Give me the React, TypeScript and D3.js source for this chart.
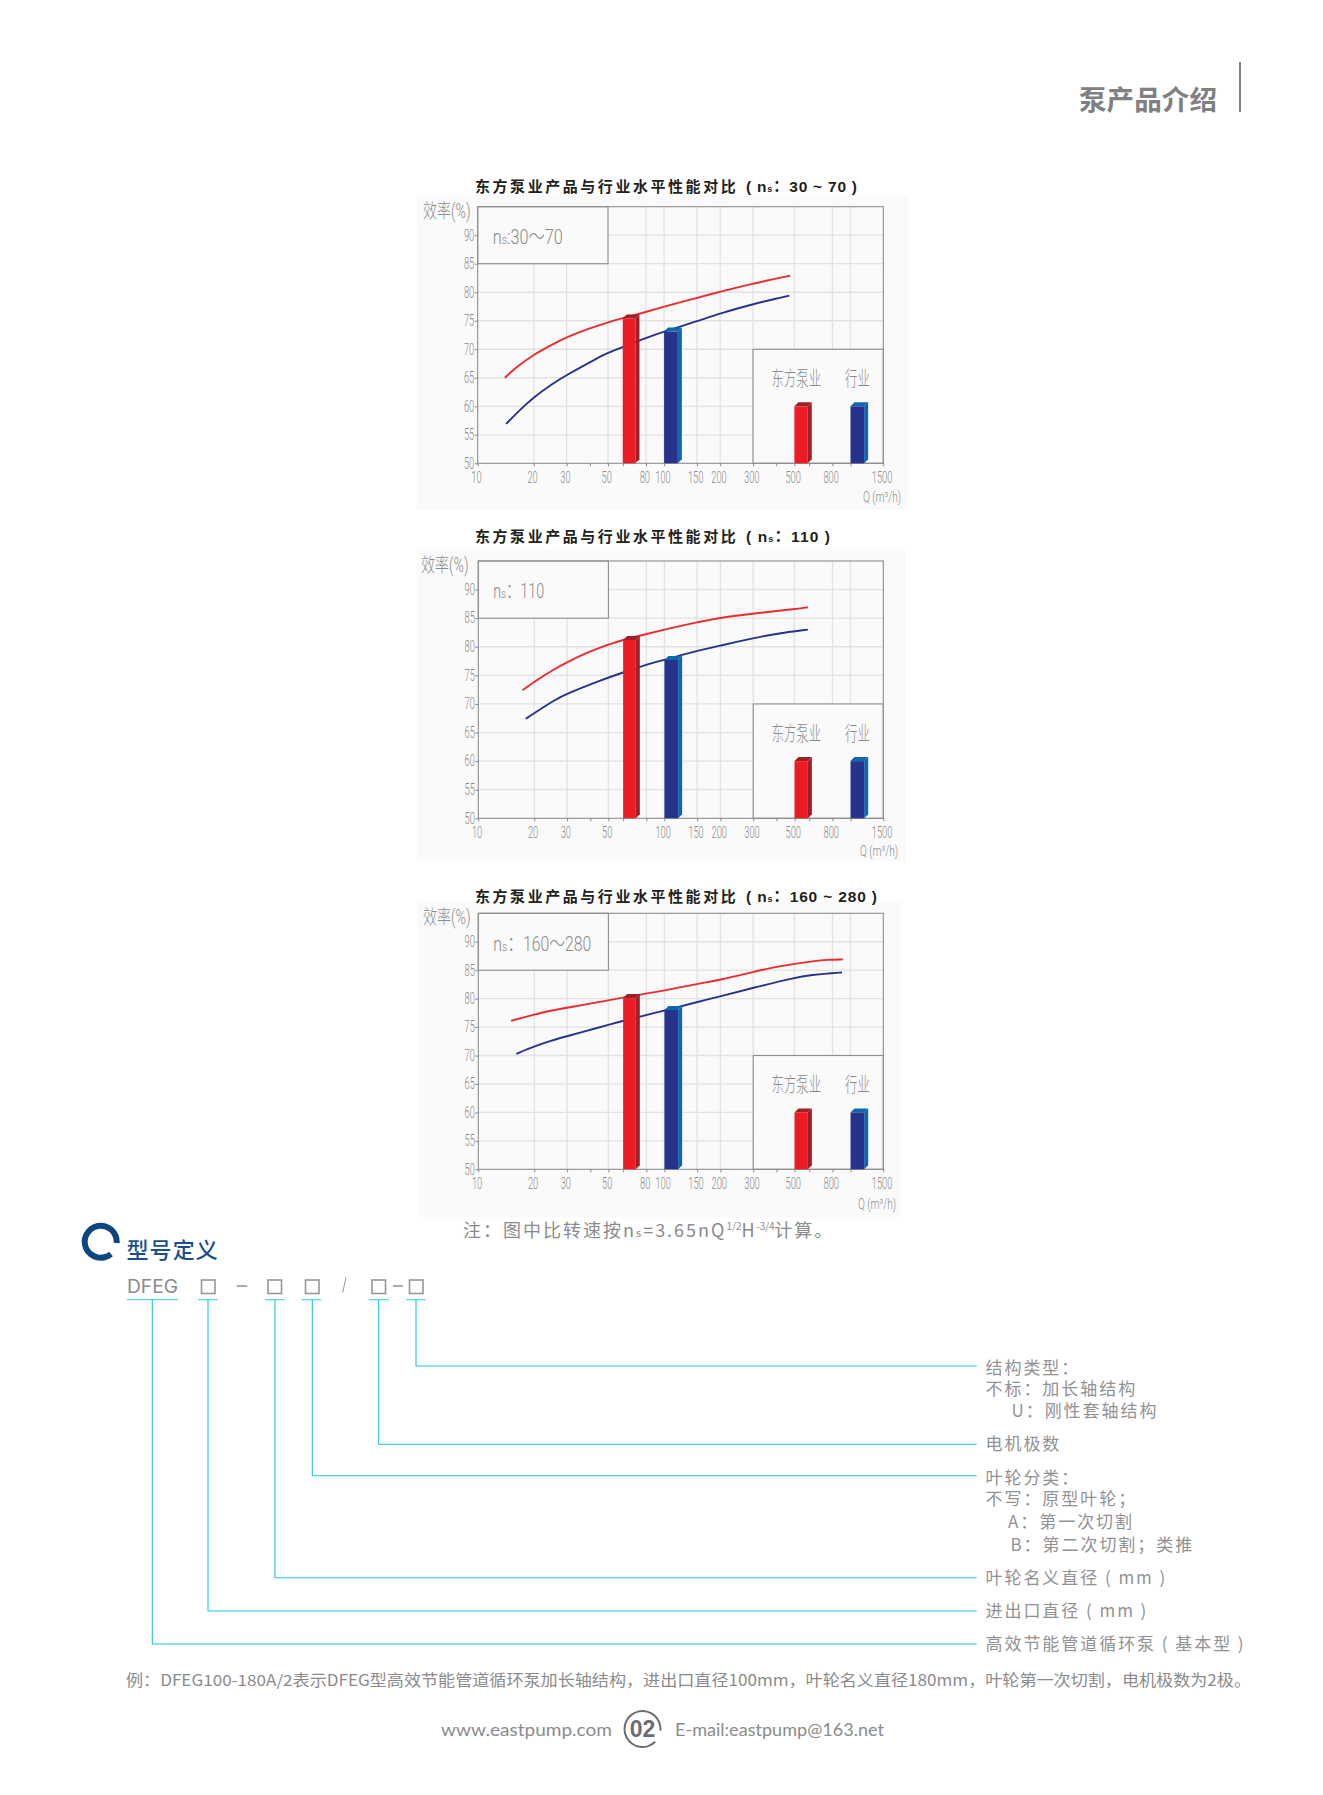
import React, { useEffect, useRef } from "react";
import * as d3 from "d3";

// curves are [Q, efficiency]
const ours30 = [[14, 65], [16, 66.8], [20, 69.1], [25, 70.8], [30, 72.1], [40, 73.7], [50, 74.7], [60, 75.5], [72, 76.1], [100, 77.5], [150, 79], [200, 80.1], [300, 81.5], [400, 82.4], [475, 82.9]];
const trade30 = [[14.2, 56.9], [17, 59.5], [20, 61.6], [25, 63.9], [30, 65.5], [42, 68.1], [50, 69.4], [60, 70.4], [80, 72], [100, 73.1], [150, 74.9], [200, 76.3], [300, 77.9], [400, 78.9], [470, 79.4]];
const ours110 = [[17.3, 72.4], [20, 73.9], [25.6, 76.1], [30, 77.3], [37.7, 78.9], [50, 80.4], [60, 81.2], [73, 81.9], [100, 83], [150, 84.3], [200, 85.1], [300, 85.8], [500, 86.6], [590, 86.9]];
const trade110 = [[18, 67.4], [20, 68.4], [26, 70.8], [30, 71.8], [45, 74.1], [60, 75.5], [80, 76.9], [100, 77.7], [150, 79.3], [200, 80.2], [300, 81.5], [400, 82.3], [590, 83]];
const ours160 = [[15, 76.1], [20, 77.2], [24.5, 77.9], [30, 78.4], [50, 79.7], [60, 80.2], [100, 81.4], [150, 82.6], [200, 83.3], [300, 84.7], [400, 85.6], [500, 86.1], [630, 86.6], [750, 86.85], [910, 86.9]];
const trade160 = [[16, 70.3], [20, 71.6], [24.5, 72.6], [30, 73.4], [36, 74.1], [50, 75.4], [60, 76.1], [100, 77.9], [150, 79.4], [200, 80.4], [300, 81.9], [500, 83.7], [630, 84.2], [750, 84.4], [900, 84.6]];

const xAxisTicks = [10, 20, 30, 40, 50, 60, 80, 100, 150, 200, 300, 400, 500, 600, 800, 1000, 1500];
const xLabels = [10, 20, 30, 50, 80, 100, 150, 200, 300, 500, 800, 1500];
const xGrid = [20, 30, 50, 80, 100, 150, 200, 300, 500, 800, 1000];
const yTicks = [50, 55, 60, 65, 70, 75, 80, 85, 90];
const yGrid = [55, 60, 65, 70, 75, 80, 85, 90];

const RED = "#ed1c24", RED_DARK = "#9e1f28", BLUE = "#27328c", BLUE_DARK = "#0a68ae";
const GREY = "#8b8b8d";
const CJK = "'Noto Sans CJK SC'";
const CHART_FONT = "Roboto, 'Noto Sans CJK SC'";

const panels = [
  {
    title: "东方泵业产品与行业水平性能对比", range: "：30 ~ 70 )", rangeW: 111, titleY: 192, ns: ["n", "s", ":30～70"], nsW: 70, nsY: 244,
    left: 477.7, right: 883.3, top: 206.7, bottom: 463.3, bg: [417, 195, 908, 510],
    ours: ours30, trade: trade30, oursBar: 75.4, tradeBar: 73.1, labels: xLabels,
    unit: [863, 502], effX: 423,
  },
  {
    title: "东方泵业产品与行业水平性能对比", range: "：110 )", rangeW: 84, titleY: 542, ns: ["n", "s", "：110"], nsW: 51, nsY: 598,
    left: 478.3, right: 883.3, top: 561, bottom: 818.3, bg: [417, 551, 906, 861],
    ours: ours110, trade: trade110, oursBar: 81.2, tradeBar: 77.7, labels: xLabels.filter(d => d !== 80),
    unit: [860, 856], effX: 421,
  },
  {
    title: "东方泵业产品与行业水平性能对比", range: "：160 ~ 280 )", rangeW: 131, titleY: 902, ns: ["n", "s", "：160～280"], nsW: 98, nsY: 951,
    left: 478.3, right: 883.3, top: 913.3, bottom: 1169.3, bg: [418, 902, 900, 1217],
    ours: ours160, trade: trade160, oursBar: 80.1, tradeBar: 78, labels: xLabels,
    unit: [858, 1209], effX: 423,
  },
];

function Bar3D({ x, y, q0, q1, v, front, dark }: any) {
  const x0 = x(q0), x1 = x(q1), top = y(v), base = y(50), d = 4;
  return (
    <g>
      <polygon points={`${x0},${top} ${x0 + d},${top - d} ${x1 + d},${top - d} ${x1},${top}`} fill={dark} />
      <polygon points={`${x1},${top} ${x1 + d},${top - d} ${x1 + d},${base - d} ${x1},${base}`} fill={dark} />
      <rect x={x0} y={top} width={x1 - x0} height={base - top} fill={front} />
    </g>
  );
}

function Narrow({ x, y, sx, size, children, fill = "#8a8a8a" }: any) {
  return (
    <text transform={`translate(${x},${y}) scale(${sx},1)`} fontSize={size} fontFamily={CHART_FONT} fontWeight={300} fill={fill}>
      {children}
    </text>
  );
}

function Panel({ p }: any) {
  const xRef = useRef<SVGGElement>(null);
  const yRef = useRef<SVGGElement>(null);
  const x = d3.scaleLog().domain([10, 1500]).range([p.left, p.right]);
  const y = d3.scaleLinear().domain([50, 95]).range([p.bottom, p.top]);
  const line = d3.line().x((d: any) => x(d[0])).y((d: any) => y(d[1])).curve(d3.curveBasis);

  useEffect(() => {
    const ax = d3.select(xRef.current as any);
    ax.call(d3.axisBottom(x).tickValues(xAxisTicks).tickSize(3).tickFormat((d: any) => (p.labels.includes(d) ? String(d) : "")) as any);
    const ay = d3.select(yRef.current as any);
    ay.call(d3.axisLeft(y).tickValues(yTicks).tickSize(3).tickFormat((d: any) => String(d)) as any);
    [ax, ay].forEach(a => {
      a.select(".domain").remove();
      a.selectAll("line").attr("stroke", "#8a8a8a");
      a.selectAll("text").attr("fill", "#8a8a8a").attr("font-size", 16).attr("font-family", CHART_FONT).attr("font-weight", 300);
    });
    ax.selectAll("text").attr("transform", "scale(.58,1)").attr("x", -3).attr("y", 8);
    ay.selectAll("text").attr("transform", "scale(.58,1)").attr("x", -6).attr("dy", ".3em");
  });

  const boxX = x(50), boxY = y(85), legX = x(300), legY = y(70);
  return (
    <g>
      <rect x={p.bg[0]} y={p.bg[1]} width={p.bg[2] - p.bg[0]} height={p.bg[3] - p.bg[1]} fill="#fafafa" />
      {xGrid.map(d => <line key={d} x1={x(d)} x2={x(d)} y1={p.top} y2={p.bottom} stroke="#e2e2e2" strokeWidth={1.3} />)}
      {yGrid.map(d => <line key={d} x1={p.left} x2={p.right} y1={y(d)} y2={y(d)} stroke="#e2e2e2" strokeWidth={1.3} />)}
      <path d={line(p.ours) as string} fill="none" stroke="#ee2a2e" strokeWidth={1.9} />
      <path d={line(p.trade) as string} fill="none" stroke={BLUE} strokeWidth={1.9} />
      <rect x={p.left} y={p.top} width={boxX - p.left} height={boxY - p.top} fill="#fafafa" stroke="#8e8e8e" strokeWidth={1.1} />
      <rect x={legX} y={legY} width={p.right - legX} height={p.bottom - legY} fill="#fafafa" stroke="#8e8e8e" strokeWidth={1.1} />
      <rect x={p.left} y={p.top} width={p.right - p.left} height={p.bottom - p.top} fill="none" stroke="#8e8e8e" strokeWidth={1.1} />
      <Bar3D x={x} y={y} q0={60} q1={70.2} v={p.oursBar} front={RED} dark={RED_DARK} />
      <Bar3D x={x} y={y} q0={100} q1={118.5} v={p.tradeBar} front={BLUE} dark={BLUE_DARK} />
      <Bar3D x={x} y={y} q0={500} q1={590} v={60} front={RED} dark={RED_DARK} />
      <Bar3D x={x} y={y} q0={1000} q1={1184} v={60} front={BLUE} dark={BLUE_DARK} />
      <g ref={xRef} transform={`translate(0,${p.bottom})`} />
      <g ref={yRef} transform={`translate(${p.left},0)`} />
      <text x={475} y={p.titleY} fontFamily={CJK} fontWeight={700} fontSize={15} letterSpacing={2.55} fill="#231f20">{p.title}</text>
      <text x={746} y={p.titleY} fontFamily={`'Liberation Sans', ${CJK}`} fontWeight={700} fontSize={15.5} fill="#231f20" textLength={p.rangeW}>
        ( n<tspan fontSize={9}>s</tspan>{p.range}
      </text>
      <text x={x(10) + 15} y={p.nsY} fontFamily={CHART_FONT} fontWeight={300} fontSize={20} fill="#8a8a8a" textLength={p.nsW} lengthAdjust="spacingAndGlyphs">
        {p.ns[0]}<tspan fontSize={13}>{p.ns[1]}</tspan>{p.ns[2]}
      </text>
      <Narrow x={p.effX} y={p.top + 11} sx={0.72} size={19.5}>效率(%)</Narrow>
      <Narrow x={p.unit[0]} y={p.unit[1]} sx={0.7} size={14.5}>Q (m³/h)</Narrow>
      <Narrow x={771.5} y={p.bottom - 77} sx={0.62} size={20}>东方泵业</Narrow>
      <Narrow x={845} y={p.bottom - 77} sx={0.62} size={20}>行业</Narrow>
    </g>
  );
}

// which box each leader line runs from, and the height it turns right at
const leaderX = [416, 378.7, 312.3, 275, 208, 152.3];
const leaderY = [1366, 1444.3, 1475.7, 1577.7, 1611, 1644];
const underlines = [[126.7, 178], [198, 218], [265, 284.7], [301.7, 321.3], [369, 389], [406, 425.7]];
const codeBoxes = [201.5, 268, 305.5, 372, 409.5];

const notes: [string, number, number][] = [
  ["结构类型：", 985.5, 1373.5],
  ["不标：加长轴结构", 985.5, 1394.5],
  ["U：刚性套轴结构", 1011.5, 1417],
  ["电机极数", 985.5, 1449.5],
  ["叶轮分类：", 985.5, 1483.5],
  ["不写：原型叶轮；", 985.5, 1504.5],
  ["A：第一次切割", 1008, 1527.5],
  ["B：第二次切割；类推", 1010.5, 1550.5],
  ["叶轮名义直径 ( mm )", 985.5, 1583.5],
  ["进出口直径 ( mm )", 985.5, 1616.5],
  ["高效节能管道循环泵 ( 基本型 )", 985.5, 1649.5],
];

export default function App() {
  const logo = d3.arc()({ innerRadius: 13, outerRadius: 19, startAngle: (140 * Math.PI) / 180, endAngle: (455 * Math.PI) / 180 }) as string;
  const pageRing = d3.arc()({ innerRadius: 17, outerRadius: 19, startAngle: (135 * Math.PI) / 180, endAngle: (455 * Math.PI) / 180 }) as string;
  return (
    <svg width={1323} height={1795} viewBox="0 0 1323 1795" style={{ position: "absolute", left: 0, top: 0, display: "block", background: "#fff" }}>
      <text x={1079} y={110} fontFamily={CJK} fontWeight={700} fontSize={27.6} fill="#808082">泵产品介绍</text>
      <line x1={1240} x2={1240} y1={62} y2={112} stroke="#808082" strokeWidth={2} />

      {panels.map((p, i) => <Panel key={i} p={p} />)}

      <text x={463} y={1237} fontFamily={CJK} fontSize={18} letterSpacing={2} fill={GREY}>
        注：图中比转速按n<tspan fontSize={11}>s</tspan>=3.65nQ<tspan fontSize={10} dy={-7} letterSpacing={0}>1/2</tspan><tspan dy={7}>H</tspan>
        <tspan fontSize={10} dy={-7} letterSpacing={-0.2}>-3/4</tspan><tspan dy={7}>计算。</tspan>
      </text>

      <path d={logo} transform="translate(100.7,1241.7)" fill="#0b4683" />
      <text x={126.5} y={1258} fontFamily={CJK} fontWeight={500} fontSize={22} letterSpacing={1.1} fill="#1a4f8e">型号定义</text>

      <text x={127} y={1293} fontFamily="Inter, 'Open Sans'" fontSize={18} fill={GREY} textLength={51} lengthAdjust="spacingAndGlyphs">DFEG</text>
      {codeBoxes.map(b => <rect key={b} x={b} y={1280} width={13.5} height={13.5} fill="none" stroke="#98989a" strokeWidth={1.6} />)}
      <line x1={236.7} x2={247.3} y1={1286} y2={1286} stroke="#98989a" strokeWidth={1.6} />
      <line x1={393} x2={403} y1={1286} y2={1286} stroke="#98989a" strokeWidth={1.6} />
      <line x1={342.7} x2={346} y1={1292.7} y2={1277.3} stroke="#98989a" strokeWidth={1} />

      {underlines.map((u, i) => <line key={i} x1={u[0]} x2={u[1]} y1={1299.7} y2={1299.7} stroke="#5bd3f5" strokeWidth={1.3} />)}
      {leaderX.map((lx, i) => (
        <polyline key={i} points={`${lx},1299.7 ${lx},${leaderY[i]} 976.7,${leaderY[i]}`} fill="none" stroke="#1fc1f0" strokeWidth={1.1} />
      ))}

      {notes.map(([t, nx, ny]) => (
        <text key={t} x={nx} y={ny} fontFamily={CJK} fontSize={17} letterSpacing={1.95} fill="#929294">{t}</text>
      ))}

      <text x={126} y={1686} fontFamily={CJK} fontSize={15.5} fill={GREY} textLength={1125} lengthAdjust="spacingAndGlyphs">
        例：DFEG100-180A/2表示DFEG型高效节能管道循环泵加长轴结构，进出口直径100mm，叶轮名义直径180mm，叶轮第一次切割，电机极数为2极。
      </text>

      <text x={441} y={1736} fontFamily="Lato, 'Open Sans'" fontSize={17} fill={GREY} textLength={171} lengthAdjust="spacingAndGlyphs">www.eastpump.com</text>
      <path d={pageRing} transform="translate(642.5,1729)" fill="#6d6d6f" />
      <text x={642.5} y={1737} textAnchor="middle" fontFamily="'Liberation Sans'" fontWeight={700} fontSize={23} fill="#6d6d6f">02</text>
      <text x={675} y={1736} fontFamily="Lato, 'Open Sans'" fontSize={17} fill={GREY} textLength={209} lengthAdjust="spacingAndGlyphs">E-mail:eastpump@163.net</text>
    </svg>
  );
}
